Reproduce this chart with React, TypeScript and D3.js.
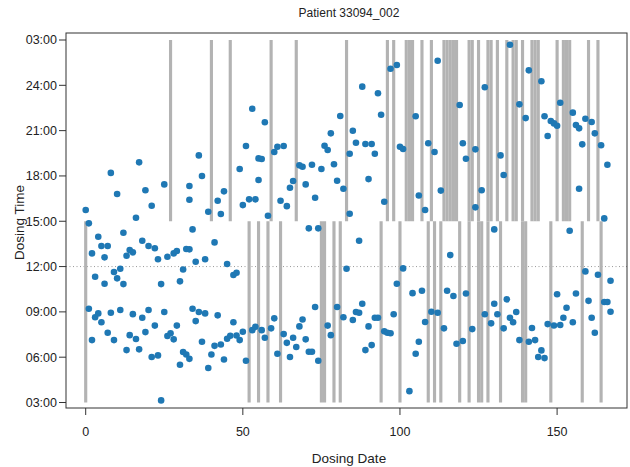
import React from "react";
import * as d3 from "d3";

const title = "Patient 33094_002";
const xLabel = "Dosing Date";
const yLabel = "Dosing Time";
const xTicks = [0, 50, 100, 150];
const yTicks = [3, 6, 9, 12, 15, 18, 21, 24, 27];
const yTickLabels = ["03:00", "06:00", "09:00", "12:00", "15:00", "18:00", "21:00", "24:00", "03:00"];

// days with grey bars in the late (15:00-03:00) window
const upperGapDays = [27, 40, 46, 59, 67, 83, 96, 98, 102, 103, 104, 107, 110, 114, 115, 116, 117, 118, 122, 123, 125, 128, 129, 131, 134, 136, 137, 139, 142, 143, 144, 150, 152, 153, 154, 160, 163];
// days with grey bars in the early (03:00-15:00) window
const lowerGapDays = [0, 52, 55, 58, 62, 75, 76, 79, 81, 94, 100, 109, 111, 113, 119, 122, 125, 126, 128, 132, 139, 140, 148, 158, 164];

// dosing records: day and clock hour (hours > 24 are after midnight)
const doseDay = [
  0, 1, 8, 10, 17, 19, 16, 21, 25, 33, 33, 36, 37, 39, 42, 43, 44, 49, 50, 51, 53, 52, 54, 55, 55, 57, 56, 58, 60, 61,
  63, 62, 64, 65, 66, 68, 69, 70, 72, 73, 75, 76, 77, 78, 79, 80, 81, 82, 84, 84, 85, 86, 88, 89, 90, 91, 92, 93, 94, 95,
  97, 99, 100, 101, 105, 106, 108, 109, 111, 112, 113, 119, 120, 121, 124, 124, 126, 127, 132, 133, 135, 138, 140, 141, 145, 146, 147, 148, 149, 150,
  151, 155, 156, 157, 158, 157, 159, 161, 162, 164, 166, 165,
  2, 4, 3, 5, 7, 6, 6, 9, 10, 11, 12, 12, 13, 14, 15, 18, 20, 22, 23, 24, 26, 28, 29, 31, 30, 32, 33, 34, 35, 38, 41, 45, 47, 48,
  71, 74, 87, 83, 101, 99, 104, 107, 115, 116, 103, 130, 154, 159, 163, 167, 117, 121,
  1, 2, 3, 4, 5, 7, 8, 9, 11, 13, 14, 15, 16, 17, 18, 19, 20, 21, 22, 23, 24, 25, 26, 27, 28, 29, 30, 31, 32, 33, 34, 35, 36, 37,
  38, 39, 40, 41, 42, 43, 44, 45, 46, 47, 48, 49, 50, 51, 53, 54,
  56, 57, 59, 60, 61, 63, 64, 65, 66, 67, 68, 69, 70, 71, 72, 73, 74, 77, 78, 80, 82, 85, 86, 87, 88, 89, 90, 91, 92, 93, 95, 96, 97, 98,
  105, 106, 108, 110, 112, 114,
  118, 120, 123, 127, 129, 130, 131, 133, 134, 135, 136, 137, 138, 141, 142, 143, 144, 145, 146, 147, 149, 151, 150, 152, 153, 155, 156, 160, 161, 162, 165, 166, 167,
];
const doseHour = [
  15.74, 14.86, 18.2, 16.8, 18.9, 17.05, 15.23, 16.03, 17.44, 17.33, 16.42, 19.36, 18.0, 15.63, 16.36, 15.48, 16.98, 18.46, 16.07, 19.98, 22.45, 16.45, 16.45, 17.73, 19.16, 21.55, 19.12, 15.36, 19.58, 19.93,
  19.98, 16.36, 16.0, 17.22, 17.66, 18.7, 18.61, 17.44, 18.74, 16.56, 18.46, 20.0, 19.72, 20.82, 18.77, 17.68, 21.97, 17.15, 15.5, 19.47, 20.99, 20.2, 23.91, 20.11, 17.79, 20.11, 19.47, 23.47, 22.05, 16.29,
  25.1, 25.34, 19.93, 19.78, 21.95, 16.7, 15.74, 20.16, 19.58, 25.63, 17.03, 22.7, 20.16, 19.14, 19.76, 15.92, 17.05, 23.87, 19.36, 18.06, 26.69, 22.74, 21.83, 24.99, 24.27, 21.95, 20.64, 21.64, 21.48, 21.32,
  22.85, 22.19, 21.37, 21.15, 20.09, 17.15, 21.79, 21.57, 20.82, 20.03, 18.74, 15.19,
  12.87, 13.97, 11.33, 13.36, 13.36, 12.61, 10.86, 11.64, 11.22, 11.86, 10.84, 14.24, 12.72, 13.09, 12.94, 13.71, 13.36, 13.21, 12.48, 10.84, 12.65, 12.87, 13.03, 11.81, 11.02, 13.16, 13.14, 14.46, 12.32, 12.48, 13.6, 12.17, 11.44, 11.59,
  14.53, 14.53, 13.71, 11.86, 11.88, 10.86, 10.24, 10.4, 10.4, 12.76, 3.75, 14.46, 14.37, 11.68, 11.46, 11.06, 10.05, 10.22,
  9.21, 7.13, 8.64, 8.9, 8.31, 7.62, 8.94, 7.13, 9.12, 6.47, 7.46, 8.85, 7.2, 6.52, 8.61, 7.66, 9.12, 6.01, 8.09, 6.12, 3.14, 8.99, 7.4, 7.58, 7.18, 8.09, 5.5, 6.34, 6.18, 5.89, 9.21, 8.39, 8.99, 7.02,
  8.9, 5.28, 6.18, 6.75, 8.77, 6.84, 5.85, 7.22, 7.42, 8.31, 7.44, 7.13, 7.68, 5.76, 7.79, 8.01,
  7.79, 7.29, 7.91, 8.57, 6.23, 7.53, 6.95, 6.01, 7.29, 6.67, 8.04, 8.5, 7.18, 6.36, 6.36, 9.32, 5.76, 8.09, 7.46, 9.32, 8.64, 8.46, 8.99, 8.94, 9.54, 6.47, 8.04, 6.8, 8.61, 8.61, 7.71, 7.62, 7.58, 8.84,
  6.23, 7.02, 8.33, 9.01, 8.94, 7.91,
  6.89, 7.07, 7.86, 8.84, 8.24, 9.54, 8.84, 7.91, 9.83, 8.61, 8.31, 8.99, 7.13, 7.02, 7.93, 7.13, 6.01, 6.45, 5.94, 8.19, 8.1, 8.13, 10.17, 8.61, 9.27, 8.31, 10.22, 9.73, 8.61, 7.62, 9.65, 9.65, 9.01,
];

const W = 630;
const H = 467;
const box = { left: 66, right: 627, top: 33, bottom: 408 };
const font = "'Liberation Sans', Arial, Helvetica, sans-serif";
const axisColor = "#333";
const textColor = "#222";

export default function App() {
  const x = d3.scaleLinear().domain([0, 150]).range([85.7, 557.1]);
  const y = d3.scaleLinear().domain([3, 27]).range([402.5, 40]);
  const barFill = "#b3b3b3";
  const dotFill = "#1f78b4";

  const barRect = (d: number, h0: number, h1: number, key: string) => (
    <rect
      key={key}
      x={x(d - 0.5)}
      width={x(d + 0.5) - x(d - 0.5)}
      y={y(h1)}
      height={y(h0) - y(h1)}
      fill={barFill}
    />
  );

  return (
    <svg
      width={W}
      height={H}
      style={{ position: "absolute", left: 0, top: 0, background: "#fff" }}
      fontFamily={font}
    >
      <rect x={0} y={0} width={W} height={H} fill="#fff" />
      <text x={349} y={17} textAnchor="middle" fontSize={12} fill={textColor}>
        {title}
      </text>
      {/* 12:00 reference line */}
      <line
        x1={box.left}
        x2={box.right}
        y1={y(12)}
        y2={y(12)}
        stroke="#999"
        strokeWidth={1}
        strokeDasharray="1,2.5"
      />
      {upperGapDays.map((d, i) => barRect(d, 15, 27, "u" + i))}
      {lowerGapDays.map((d, i) => barRect(d, 3, 15, "l" + i))}
      {doseDay.map((d, i) => (
        <circle key={"p" + i} cx={x(d)} cy={y(doseHour[i])} r={3.3} fill={dotFill} />
      ))}
      <rect
        x={box.left}
        y={box.top}
        width={box.right - box.left}
        height={box.bottom - box.top}
        fill="none"
        stroke={axisColor}
        strokeWidth={1}
      />
      {yTicks.map((t, i) => (
        <g key={"yt" + i}>
          <line x1={box.left - 7} x2={box.left} y1={y(t)} y2={y(t)} stroke={axisColor} />
          <text
            x={box.left - 9}
            y={y(t)}
            dy="0.35em"
            textAnchor="end"
            fontSize={12.5}
            fill={textColor}
          >
            {yTickLabels[i]}
          </text>
        </g>
      ))}
      {xTicks.map((t, i) => (
        <g key={"xt" + i}>
          <line x1={x(t)} x2={x(t)} y1={box.bottom} y2={box.bottom + 7} stroke={axisColor} />
          <text x={x(t)} y={432} dy="0.35em" textAnchor="middle" fontSize={12.5} fill={textColor}>
            {t}
          </text>
        </g>
      ))}
      <text x={349} y={458} dy="0.35em" textAnchor="middle" fontSize={13.5} fill={textColor}>
        {xLabel}
      </text>
      <text
        transform={`translate(19,${(box.top + box.bottom) / 2 + 2}) rotate(-90)`}
        dy="0.35em"
        textAnchor="middle"
        fontSize={13.5}
        fill={textColor}
      >
        {yLabel}
      </text>
    </svg>
  );
}
